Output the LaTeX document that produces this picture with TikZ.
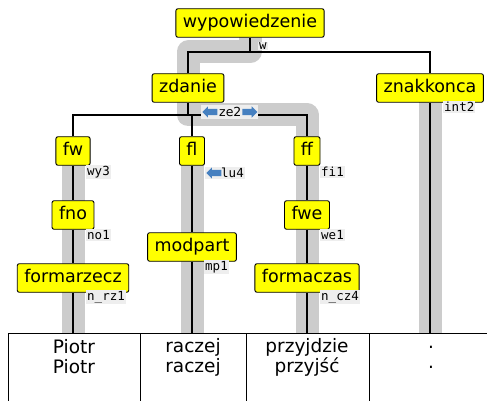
\documentclass[tikz,border=0pt]{standalone}
\usepackage{fontspec}
\setmainfont{DejaVu Sans}
\setmonofont{DejaVu Sans Mono}
\usetikzlibrary{shapes.arrows}
\definecolor{boxyellow}{RGB}{255,255,0}
\definecolor{arrowblue}{RGB}{70,128,192}
\definecolor{bandgray}{RGB}{204,204,204}
\definecolor{taggray}{RGB}{238,238,238}
\tikzset{
	cat/.style={draw=black,fill=boxyellow,rounded corners=2pt,line width=0.9pt,font=\fontsize{17.5}{20}\selectfont,inner xsep=7pt,inner ysep=6pt,text height=12.5pt,text depth=4pt},
	tag/.style={fill=taggray,inner sep=1pt,anchor=west,font=\fontsize{12.5}{14}\selectfont\ttfamily},
	branch/.style={line width=1.8pt},
	band/.style={draw=bandgray,line width=23pt,line join=round},
	word/.style={align=center,font=\fontsize{18.5}{20}\selectfont},
	blk/.style={single arrow,fill=arrowblue,minimum height=15pt,minimum width=11pt,inner sep=3pt,single arrow head extend=2.5pt}
}

\begin{document}
\begin{tikzpicture}[x=1pt,y=-1pt]
	%%%%% START %%%%%
	\def\xa{73}
	\def\xb{192}
	\def\xc{307}
	\def\xd{430}
	\def\xr{250}
	\def\xz{188}
	\def\yroot{23}
	\def\ytop{52}
	\def\yz{88}
	\def\ymid{115}
	\def\yone{151}
	\def\ytwo{215}
	\def\ymod{247}
	\def\ythree{278}
	\def\ytab{333}
	\def\ybot{401}
	
	\useasboundingbox (0,0) rectangle (487,\ybot);
	
	% gray bands
	\draw[band] (\xr,\yroot) -- (\xr,\ytop) -- (\xz,\ytop) -- (\xz,\ymid) -- (\xc,\ymid) -- (\xc,\ytab);
	\draw[band] (\xa,\yone) -- (\xa,\ytab);
	\draw[band] (\xb,\yone) -- (\xb,\ytab);
	\draw[band] (\xd,\yz) -- (\xd,\ytab);
	
	% table
	\draw[line width=0.9pt] (487,\ytab) -- (8,\ytab) -- (8,\ybot);
	\foreach \x in {140,246,369}
		\draw[line width=0.9pt] (\x,\ytab) -- (\x,\ybot);
	
	\node[word] (wa) at (74,357) {Piotr\\Piotr};
	\node[word] (wb) at (193,357) {raczej\\raczej};
	\node[word] (wc) at (307,357) {przyjdzie\\przyjść};
	\node[word] (wd) at (431,357) {.\\.};
	
	\coordinate (ta) at (\xa,\ytab);
	\coordinate (tb) at (\xb,\ytab);
	\coordinate (tc) at (\xc,\ytab);
	\coordinate (td) at (\xd,\ytab);
	
	% categories
	\node[cat] (wyp) at (\xr,\yroot) {wypowiedzenie};
	\node[cat] (zdanie) at (\xz,\yz) {zdanie};
	\node[cat] (znak) at (\xd,\yz) {znakkonca};
	\node[cat] (fw) at (\xa,\yone) {fw};
	\node[cat] (fl) at (\xb,\yone) {fl};
	\node[cat] (ff) at (\xc,\yone) {ff};
	\node[cat] (fno) at (\xa,\ytwo) {fno};
	\node[cat] (modpart) at (\xb,\ymod) {modpart};
	\node[cat] (fwe) at (\xc,\ytwo) {fwe};
	\node[cat] (formarzecz) at (\xa,\ythree) {formarzecz};
	\node[cat] (formaczas) at (\xc,\ythree) {formaczas};
	
	% tree lines
	\draw[branch] (wyp.south) -- (\xr,\ytop) coordinate (jr);
	\draw[branch] (zdanie.north) |- (jr) -| (znak.north);
	\draw[branch] (zdanie.south) -- (\xz,\ymid) coordinate (jz);
	\draw[branch] (fw.north) |- (jz) -| (ff.north);
	\draw[branch] (fl.north) -- (fl.north |- jz);
	\draw[branch] (fw) -- (fno) -- (formarzecz) -- (ta);
	\draw[branch] (fl) -- (modpart) -- (tb);
	\draw[branch] (ff) -- (fwe) -- (formaczas) -- (tc);
	\draw[branch] (znak) -- (td);
	
	% labels
	\node[tag] (lw) at (258,46) {w};
	\node[tag] (lint) at (443,107) {int2};
	\node[tag] (lwy) at (86,172) {wy3};
	\node[tag] (lno) at (86,235) {no1};
	\node[tag] (lrz) at (86,297) {n\_rz1};
	\node[tag] (lmp) at (204,267) {mp1};
	\node[tag] (lfi) at (320,172) {fi1};
	\node[tag] (lwe) at (320,235) {we1};
	\node[tag] (lcz) at (320,297) {n\_cz4};
	
	\node[tag] (llu) at (205,173) {\hspace*{15pt}lu4};
	\node[blk,shape border rotate=180,anchor=tip] at ([xshift=1pt]llu.west) {};
	
	\node[tag,font=\fontsize{12.5}{14}\selectfont,inner ysep=2.5pt] (lze) at (201,112) {\hspace*{17pt}ze2\hspace*{16pt}};
	\node[blk,shape border rotate=180,anchor=tip] at ([xshift=1pt]lze.west) {};
	\node[blk,anchor=tip] at ([xshift=-1pt]lze.east) {};
	%%%%% END %%%%%
\end{tikzpicture}
\end{document}
